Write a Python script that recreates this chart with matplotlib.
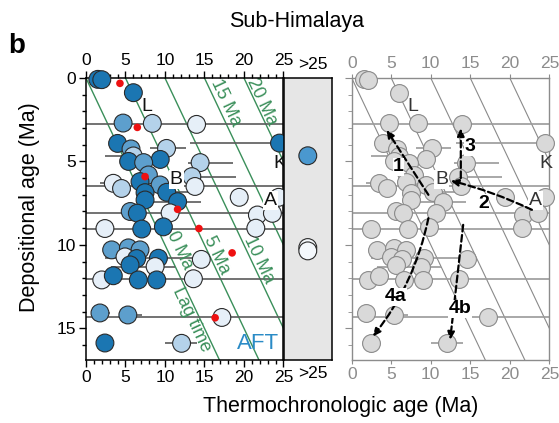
import numpy as np
import matplotlib
matplotlib.use("Agg")
import matplotlib.pyplot as plt
from matplotlib import ticker

plt.rcParams["font.family"] = ["Liberation Sans", "DejaVu Sans"]

# thermochronologic age (Ma), depositional age (Ma), error-bar bounds, shade
thermo = [1.5, 2.0, 6.0, 4.7, 8.4, 14.0, 24.5, 4.0, 5.7, 10.2, 6.0, 9.4, 5.4, 7.3,
          14.45, 7.9, 13.4, 3.46, 4.5, 6.84, 9.38, 13.8, 10.23, 7.48, 7.48, 11.6,
          19.4, 24.4, 5.6, 6.5, 10.65, 21.7, 23.6, 2.4, 7.06, 9.8, 21.5, 3.25,
          5.37, 6.84, 4.94, 6.42, 5.58, 9.17, 8.75, 14.6, 2.0, 3.46, 6.63, 8.96,
          13.6, 1.77, 5.3, 17.2, 2.4, 12.1]
depo = [0.08, 0.1, 0.88, 2.7, 2.72, 2.78, 3.9, 3.92, 4.25, 4.22, 4.67, 4.88, 5.0, 5.07,
        5.07, 5.81, 5.91, 6.31, 6.62, 6.21, 6.41, 6.5, 6.85, 6.87, 7.31, 7.41,
        7.15, 7.15, 8.0, 8.1, 8.08, 8.21, 8.11, 9.02, 9.05, 8.92, 9.0, 10.3,
        10.18, 10.3, 10.72, 10.82, 11.2, 10.8, 11.3, 10.87, 12.1, 11.85, 12.1, 12.1,
        12.03, 14.08, 14.2, 14.35, 15.88, 15.9]
err_lo = [None, None, None, None, None, -5, 13.2, None, None, 8.1, 2.4, None, None, None,
          12.9, None, 12.3, 1.8, None, None, None, -5, 8.7, None, None, 8.5,
          None, None, None, None, -5, None, None, -5, None, None, None, None,
          None, None, None, None, None, 2.4, 3.2, None, None, None, None, None,
          -5, 1.0, 4.3, -5, None, 10.0]
err_hi = [None, None, None, None, None, 40, 40, None, None, 12.6, 7.1, None, None, None,
          18.6, None, 19.0, 5.0, None, None, None, 40, 14.2, None, None, 14.5,
          None, None, None, None, 40, None, None, 40, None, None, None, None,
          None, None, None, None, None, 14.2, 11.3, None, None, None, None, None,
          40, 3.0, 7.1, 40, None, 14.1]
shade = ["d", "d", "d", "m", "l", "v", "d", "d", "m", "l", "l", "d", "d", "m",
         "l", "m", "l", "v", "l", "d", "m", "v", "d", "d", "d", "d",
         "v", "v", "m", "d", "v", "v", "v", "v", "d", "d", "v", "m",
         "m", "m", "v", "d", "d", "d", "v", "v", "v", "d", "d", "d",
         "v", "m", "m", "v", "d", "l"]

# red points
red_thermo = [4.3, 6.5, 7.48, 11.6, 14.3, 18.5, 16.35]
red_depo = [0.32, 2.96, 5.91, 7.87, 9.02, 10.48, 14.37]

# samples older than 25 Ma
old_depo = [4.66, 10.16, 10.36]
old_color = ["#4a98cf", "#f4f8fc", "#f4f8fc"]

lags = [0, 5, 10, 15, 20]
shade_colors = {"d": "#1b76b2", "m": "#5d9fcd", "l": "#b4d2ea", "v": "#e6eff8"}

thermo = np.array(thermo)
depo = np.array(depo)
has_err = np.array([e is not None for e in err_lo])
lo = np.array([e if e is not None else 0 for e in err_lo])
hi = np.array([e if e is not None else 0 for e in err_hi])

YMAX = 16.9
MS = 165
fig = plt.figure(figsize=(5.59, 4.23), dpi=100)
axL = fig.add_axes([0.1538, 0.1489, 0.3533, 0.6667])
axG = fig.add_axes([0.5072, 0.1489, 0.0868, 0.6667])
axR = fig.add_axes([0.6292, 0.1489, 0.3535, 0.6667])

yy = np.array([0, YMAX])
green = "#3a8f5a"
for lag in lags:
    axL.plot(yy + lag, yy, color=green, lw=1.0, zorder=1)
    axR.plot(yy + lag, yy, color="#8a8a8a", lw=0.8, zorder=1)

# error bars
xerr = np.vstack([thermo[has_err] - lo[has_err], hi[has_err] - thermo[has_err]])
axL.errorbar(thermo[has_err], depo[has_err], xerr=xerr, fmt="none",
             ecolor="#5a5a5a", elinewidth=1.2, capsize=0, zorder=2)
axR.errorbar(thermo[has_err], depo[has_err], xerr=xerr, fmt="none",
             ecolor="#9a9a9a", elinewidth=1.2, capsize=0, zorder=2)

cols = [shade_colors[s] for s in shade]
axL.scatter(thermo, depo, s=MS, c=cols, edgecolors="#2a2a2a", linewidths=0.8,
            zorder=3, clip_on=False)
axL.scatter(red_thermo, red_depo, s=30, c="#ee1111", edgecolors="none", zorder=4)
axR.scatter(thermo, depo, s=MS, c="#d9d9d9", edgecolors="#8a8a8a", linewidths=0.8,
            zorder=3, clip_on=False)

# lag-time labels
rot = -64.7
lag_labels = [("15 Ma", 17.7, 1.45), ("20 Ma", 22.3, 1.42), ("10 Ma", 21.9, 10.9),
              ("5 Ma", 16.5, 10.6), ("0 Ma", 11.8, 10.3), ("Lag time", 13.4, 14.5)]
for txt, x, y in lag_labels:
    axL.text(x, y, txt, color=green, fontsize=13, rotation=rot, rotation_mode="anchor",
             ha="center", va="center", zorder=2)

for ax, col in [(axL, "#111111"), (axR, "#333333")]:
    ax.text(7.7, 1.72, "L", fontsize=14, color=col, ha="center", va="center", zorder=5)
    ax.text(24.5, 5.15, "K", fontsize=14, color=col, ha="center", va="center", zorder=5)
    ax.text(11.4, 6.08, "B", fontsize=14, color=col, ha="center", va="center", zorder=5,
            bbox=dict(boxstyle="square,pad=0.05", fc="white", ec="none"))
    ax.text(23.3, 7.32, "A", fontsize=14, color=col, ha="center", va="center", zorder=5,
            bbox=dict(boxstyle="square,pad=0.05", fc="white", ec="none"))
axL.text(21.8, 15.9, "AFT", fontsize=16, color="#2a8bc6", ha="center", va="center", zorder=5)

# transition paths on the right panel
arrows = [((9.7, 7.0), (4.4, 3.1), 0.0), ((22.8, 7.9), (12.5, 6.15), 0.05),
          ((13.8, 6.0), (13.8, 3.0), 0.0), ((9.7, 8.4), (2.65, 15.5), -0.12),
          ((14.1, 8.8), (12.45, 15.7), 0.0)]
for start, end, rad in arrows:
    axR.annotate("", xy=end, xytext=start, zorder=6,
                 arrowprops=dict(arrowstyle="-|>,head_length=0.45,head_width=0.2",
                                 linestyle=(0, (3, 1.6)), lw=1.6, color="black",
                                 shrinkA=0, shrinkB=0,
                                 connectionstyle="arc3,rad=%g" % rad))
path_labels = [("1", 5.9, 5.32), ("2", 16.7, 7.5), ("3", 14.9, 4.12),
               ("4a", 5.6, 13.12), ("4b", 13.7, 13.82)]
for txt, x, y in path_labels:
    axR.text(x, y, txt, fontsize=14, fontweight="bold", ha="center", va="center", zorder=7,
             bbox=dict(boxstyle="square,pad=0.02", fc="white", ec="none"))

# >25 Ma panel
axG.set_facecolor("#e6e6e6")
axG.scatter([0.5] * len(old_depo), old_depo, s=MS, c=old_color,
            edgecolors="#2a2a2a", linewidths=0.8, zorder=3)

for ax in (axL, axG, axR):
    ax.set_ylim(YMAX, 0)

axL.set_xlim(0, 25)
axR.set_xlim(0, 25)
axG.set_xlim(0, 1)

for ax in (axL, axR):
    ax.xaxis.set_major_locator(ticker.MultipleLocator(5))
    ax.yaxis.set_major_locator(ticker.MultipleLocator(5))
    ax.yaxis.set_minor_locator(ticker.MultipleLocator(1))

axL.xaxis.set_minor_locator(ticker.MultipleLocator(1))
axL.tick_params(axis="both", which="both", direction="out", labelsize=12.5, width=1.0,
                top=True, labeltop=True, pad=2)
axL.tick_params(which="major", length=5)
axL.tick_params(which="minor", length=3)
for s in axL.spines.values():
    s.set_linewidth(1.1)

axG.set_xticks([0.6])
axG.set_xticklabels([">25"])
axG.set_yticks([])
axG.tick_params(axis="x", length=0, labelsize=12.5, top=True, labeltop=True, pad=4)
for s in axG.spines.values():
    s.set_linewidth(1.1)

gray = "#8c8c8c"
axR.tick_params(axis="both", which="both", direction="out", labelsize=12.5, colors=gray,
                top=True, labeltop=True, labelleft=False, pad=2)
axR.tick_params(axis="x", which="major", length=3)
axR.tick_params(axis="y", which="major", length=5)
axR.tick_params(axis="y", which="minor", length=3)
for s in axR.spines.values():
    s.set_color(gray)
    s.set_linewidth(1.0)

fig.text(0.015, 0.875, "b", fontsize=20, fontweight="bold", ha="left", va="baseline")
fig.text(0.53, 0.95, "Sub-Himalaya", fontsize=15.5, ha="center", va="center")
fig.text(0.61, 0.038, "Thermochronologic age (Ma)", fontsize=15.5, ha="center", va="center")
fig.text(0.052, 0.51, "Depositional age (Ma)", fontsize=15.5, ha="center", va="center",
         rotation=90)

fig.savefig("out.png", dpi=100)
